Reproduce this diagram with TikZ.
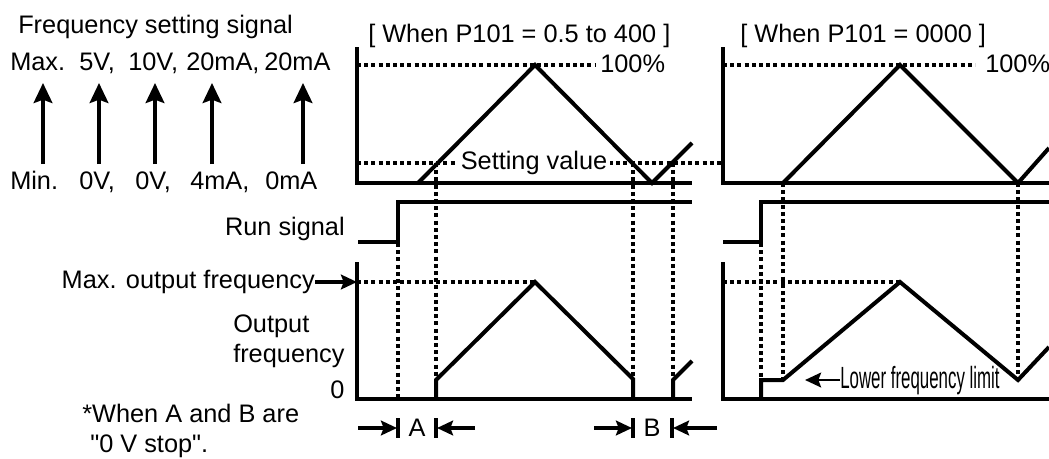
\documentclass[tikz,border=0pt]{standalone}
\usepackage{fontspec}
\setmainfont{Liberation Sans}
\usetikzlibrary{arrows.meta}

\begin{document}
\begin{tikzpicture}[
  x=0.75pt, y=-0.75pt,
  font=\fontsize{19}{22}\selectfont,
  sig/.style={line width=3pt, line join=miter},
  axis/.style={line width=3.2pt},
  guide/.style={line width=2.8pt, dash pattern=on 3pt off 2.4pt},
  arr/.style={-{Stealth[length=12pt, width=11pt, inset=2pt]}, line width=2.8pt},
  uparr/.style={-{Stealth[length=15pt, width=14pt, inset=2.5pt]}, line width=2.8pt},
  lbl/.style={inner sep=0pt, anchor=base west}
]
\useasboundingbox (0,0) rectangle (1049,458);

% frequency setting signal ranges
\node[lbl] (fsig) at (18,33) {Frequency setting signal};
\node[lbl] (mx1) at (10,70) {Max.};
\node[lbl] (mx2) at (79,70) {5V,};
\node[lbl] (mx3) at (128,70) {10V,};
\node[lbl] (mx4) at (186,70) {20mA,};
\node[lbl] (mx5) at (264,70) {20mA};
\node[lbl] (mn1) at (10,189) {Min.};
\node[lbl] (mn2) at (79,189) {0V,};
\node[lbl] (mn3) at (135,189) {0V,};
\node[lbl] (mn4) at (190,189) {4mA,};
\node[lbl] (mn5) at (265,189) {0mA};
\coordinate (lo1) at (43,164);  \coordinate (hi1) at (43,83);
\coordinate (lo2) at (99,164);  \coordinate (hi2) at (99,83);
\coordinate (lo3) at (155,164); \coordinate (hi3) at (155,83);
\coordinate (lo4) at (212,164); \coordinate (hi4) at (212,83);
\coordinate (lo5) at (303,164); \coordinate (hi5) at (303,83);
\draw[uparr] (lo1) -- (hi1);
\draw[uparr] (lo2) -- (hi2);
\draw[uparr] (lo3) -- (hi3);
\draw[uparr] (lo4) -- (hi4);
\draw[uparr] (lo5) -- (hi5);

% left-hand labels
\node[lbl, anchor=base east] (runlbl) at (345,235) {Run signal};
\node[lbl, anchor=base east] (maxf) at (315,288) {Max. output frequency};
\node[lbl] (outlbl1) at (233,332) {Output};
\node[lbl] (outlbl2) at (233,362) {frequency};
\node[lbl] (zero) at (330,398) {0};
\node[lbl] (note1) at (82,422) {*When A and B are};
\node[lbl] (note2) at (90,452) {\textquotedbl 0 V stop\textquotedbl.};
\coordinate (maxlvl) at (357,282);
\draw[arr] (maxf.east |- maxlvl) -- (maxlvl);

% panel: P101 = 0.5 to 400
\node[lbl] (hdra) at (368,42) {[ When P101 = 0.5 to 400 ]};
\node[lbl] (pcta) at (600,72) {100\%};
\draw[guide] (357,65) -- (595,65);
\draw[guide] (357,163) -- (722,163);
\node[fill=white, inner sep=2pt, anchor=base] (setv) at (534,169) {Setting value};
\draw[axis] (357,47) -- (357,183) -- (692,183);
\draw[sig] (418,183) -- (535,65) -- (652,183) -- (692,143);
\draw[guide] (436,163) -- (436,380);
\draw[guide] (633,163) -- (633,378);
\draw[guide] (673,163) -- (673,380);
\draw[sig] (358,242) -- (398,242) -- (398,202) -- (692,202);
\draw[guide] (398,243) -- (398,399);
\draw[guide] (357,282) -- (535,282);
\draw[axis] (357,262) -- (357,399) -- (692,399);
\draw[sig] (436,399) -- (436,380) -- (535,282) -- (633,379) -- (633,399);
\draw[sig] (673,399) -- (673,380) -- (692,361);

% A and B intervals
\node[lbl, anchor=base] (mka) at (417,436) {A};
\node[lbl, anchor=base] (mkb) at (652,436) {B};
\draw[sig] (398,418) -- (398,438);
\draw[sig] (436,418) -- (436,438);
\draw[sig] (633,418) -- (633,438);
\draw[sig] (672,418) -- (672,438);
\draw[arr] (358,428) -- (397,428);
\draw[arr] (475,428) -- (437,428);
\draw[arr] (594,428) -- (632,428);
\draw[arr] (717,428) -- (673,428);

% panel: P101 = 0000
\node[lbl] (hdrb) at (740,42) {[ When P101 = 0000 ]};
\node[lbl] (pctb) at (985,72) {100\%};
\draw[guide] (723,65) -- (975,65);
\draw[axis] (723,47) -- (723,183) -- (1049,183);
\draw[sig] (783,183) -- (900,65) -- (1018,183) -- (1049,148);
\draw[guide] (783,183) -- (783,380);
\draw[guide] (1018,183) -- (1018,378);
\draw[sig] (723,242) -- (761,242) -- (761,202) -- (1049,202);
\draw[guide] (761,243) -- (761,380);
\draw[guide] (723,282) -- (900,282);
\draw[axis] (723,262) -- (723,399) -- (1049,399);
\draw[sig] (761,399) -- (761,380) -- (783,380) -- (900,282) -- (1018,380) -- (1049,347);
\node[lbl] (lowlim) at (840,388) {\fontsize{23}{26}\selectfont\scalebox{0.55}[1]{Lower frequency limit}};
\coordinate (lowtip) at (805,380);
\draw[arr, line width=2.2pt] (lowlim.west |- lowtip) -- (lowtip);
\end{tikzpicture}
\end{document}
